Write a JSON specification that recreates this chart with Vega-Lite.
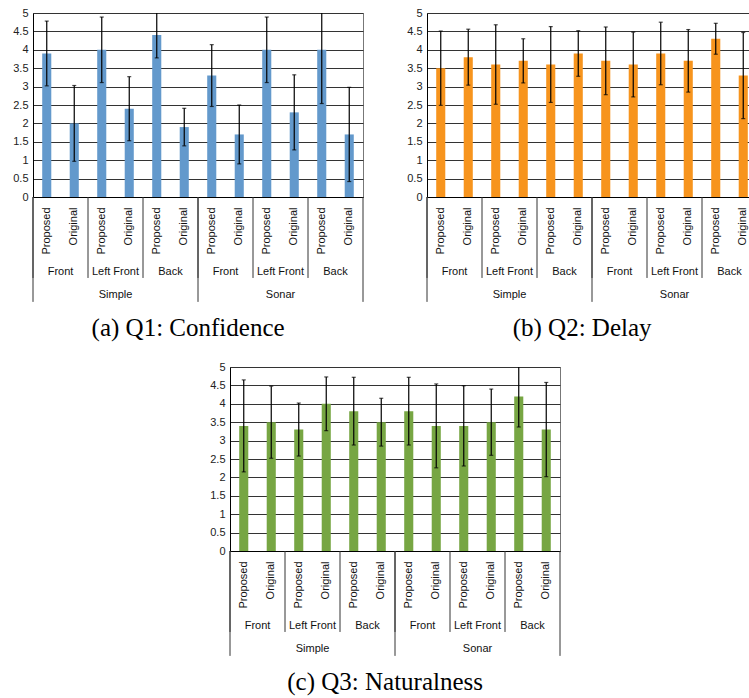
{
  "$schema": "https://vega.github.io/schema/vega-lite/v6.json",
  "padding": {"left": 12, "top": 6, "right": 0, "bottom": 0},
  "background": "white",
  "datasets": {
    "q1": [
      {"method": "Simple", "position": "Front", "system": "Proposed", "value": 3.9, "err": 0.88, "bar": "Simple|Front|Proposed", "group": "Simple|Front"},
      {"method": "Simple", "position": "Front", "system": "Original", "value": 2.0, "err": 1.03, "bar": "Simple|Front|Original", "group": "Simple|Front"},
      {"method": "Simple", "position": "Left Front", "system": "Proposed", "value": 4.0, "err": 0.89, "bar": "Simple|Left Front|Proposed", "group": "Simple|Left Front"},
      {"method": "Simple", "position": "Left Front", "system": "Original", "value": 2.4, "err": 0.87, "bar": "Simple|Left Front|Original", "group": "Simple|Left Front"},
      {"method": "Simple", "position": "Back", "system": "Proposed", "value": 4.4, "err": 0.62, "bar": "Simple|Back|Proposed", "group": "Simple|Back"},
      {"method": "Simple", "position": "Back", "system": "Original", "value": 1.9, "err": 0.51, "bar": "Simple|Back|Original", "group": "Simple|Back"},
      {"method": "Sonar", "position": "Front", "system": "Proposed", "value": 3.3, "err": 0.84, "bar": "Sonar|Front|Proposed", "group": "Sonar|Front"},
      {"method": "Sonar", "position": "Front", "system": "Original", "value": 1.7, "err": 0.8, "bar": "Sonar|Front|Original", "group": "Sonar|Front"},
      {"method": "Sonar", "position": "Left Front", "system": "Proposed", "value": 4.0, "err": 0.89, "bar": "Sonar|Left Front|Proposed", "group": "Sonar|Left Front"},
      {"method": "Sonar", "position": "Left Front", "system": "Original", "value": 2.3, "err": 1.02, "bar": "Sonar|Left Front|Original", "group": "Sonar|Left Front"},
      {"method": "Sonar", "position": "Back", "system": "Proposed", "value": 4.0, "err": 1.46, "bar": "Sonar|Back|Proposed", "group": "Sonar|Back"},
      {"method": "Sonar", "position": "Back", "system": "Original", "value": 1.7, "err": 1.28, "bar": "Sonar|Back|Original", "group": "Sonar|Back"}
    ],
    "q2": [
      {"method": "Simple", "position": "Front", "system": "Proposed", "value": 3.5, "err": 1.01, "bar": "Simple|Front|Proposed", "group": "Simple|Front"},
      {"method": "Simple", "position": "Front", "system": "Original", "value": 3.8, "err": 0.76, "bar": "Simple|Front|Original", "group": "Simple|Front"},
      {"method": "Simple", "position": "Left Front", "system": "Proposed", "value": 3.6, "err": 1.08, "bar": "Simple|Left Front|Proposed", "group": "Simple|Left Front"},
      {"method": "Simple", "position": "Left Front", "system": "Original", "value": 3.7, "err": 0.6, "bar": "Simple|Left Front|Original", "group": "Simple|Left Front"},
      {"method": "Simple", "position": "Back", "system": "Proposed", "value": 3.6, "err": 1.03, "bar": "Simple|Back|Proposed", "group": "Simple|Back"},
      {"method": "Simple", "position": "Back", "system": "Original", "value": 3.9, "err": 0.62, "bar": "Simple|Back|Original", "group": "Simple|Back"},
      {"method": "Sonar", "position": "Front", "system": "Proposed", "value": 3.7, "err": 0.92, "bar": "Sonar|Front|Proposed", "group": "Sonar|Front"},
      {"method": "Sonar", "position": "Front", "system": "Original", "value": 3.6, "err": 0.88, "bar": "Sonar|Front|Original", "group": "Sonar|Front"},
      {"method": "Sonar", "position": "Left Front", "system": "Proposed", "value": 3.9, "err": 0.85, "bar": "Sonar|Left Front|Proposed", "group": "Sonar|Left Front"},
      {"method": "Sonar", "position": "Left Front", "system": "Original", "value": 3.7, "err": 0.85, "bar": "Sonar|Left Front|Original", "group": "Sonar|Left Front"},
      {"method": "Sonar", "position": "Back", "system": "Proposed", "value": 4.3, "err": 0.42, "bar": "Sonar|Back|Proposed", "group": "Sonar|Back"},
      {"method": "Sonar", "position": "Back", "system": "Original", "value": 3.3, "err": 1.17, "bar": "Sonar|Back|Original", "group": "Sonar|Back"}
    ],
    "q3": [
      {"method": "Simple", "position": "Front", "system": "Proposed", "value": 3.4, "err": 1.25, "bar": "Simple|Front|Proposed", "group": "Simple|Front"},
      {"method": "Simple", "position": "Front", "system": "Original", "value": 3.5, "err": 0.98, "bar": "Simple|Front|Original", "group": "Simple|Front"},
      {"method": "Simple", "position": "Left Front", "system": "Proposed", "value": 3.3, "err": 0.72, "bar": "Simple|Left Front|Proposed", "group": "Simple|Left Front"},
      {"method": "Simple", "position": "Left Front", "system": "Original", "value": 4.0, "err": 0.73, "bar": "Simple|Left Front|Original", "group": "Simple|Left Front"},
      {"method": "Simple", "position": "Back", "system": "Proposed", "value": 3.8, "err": 0.92, "bar": "Simple|Back|Proposed", "group": "Simple|Back"},
      {"method": "Simple", "position": "Back", "system": "Original", "value": 3.5, "err": 0.65, "bar": "Simple|Back|Original", "group": "Simple|Back"},
      {"method": "Sonar", "position": "Front", "system": "Proposed", "value": 3.8, "err": 0.92, "bar": "Sonar|Front|Proposed", "group": "Sonar|Front"},
      {"method": "Sonar", "position": "Front", "system": "Original", "value": 3.4, "err": 1.14, "bar": "Sonar|Front|Original", "group": "Sonar|Front"},
      {"method": "Sonar", "position": "Left Front", "system": "Proposed", "value": 3.4, "err": 1.09, "bar": "Sonar|Left Front|Proposed", "group": "Sonar|Left Front"},
      {"method": "Sonar", "position": "Left Front", "system": "Original", "value": 3.5, "err": 0.9, "bar": "Sonar|Left Front|Original", "group": "Sonar|Left Front"},
      {"method": "Sonar", "position": "Back", "system": "Proposed", "value": 4.2, "err": 0.83, "bar": "Sonar|Back|Proposed", "group": "Sonar|Back"},
      {"method": "Sonar", "position": "Back", "system": "Original", "value": 3.3, "err": 1.28, "bar": "Sonar|Back|Original", "group": "Sonar|Back"}
    ]
  },
  "config": {
    "view": {"stroke": "#777", "strokeWidth": 1},
    "axis": {"labelFont": "Liberation Sans", "labelFontSize": 11, "labelColor": "#222"},
    "axisY": {"tickCount": 10, "format": "~g", "grid": true, "gridColor": "#333", "ticks": false, "domainColor": "#000", "labelPadding": 5},
    "title": {"font": "Liberation Serif", "fontSize": 25, "fontWeight": "normal", "color": "#000", "orient": "bottom", "frame": "bounds", "anchor": "middle", "offset": 14}
  },
  "spacing": 18,
  "center": true,
  "vconcat": [
    {
      "spacing": 42,
      "hconcat": [
        {
          "width": 330, "height": 184,
          "title": "(a) Q1: Confidence",
          "data": {"name": "q1"},
          "resolve": {"scale": {"x": "independent"}, "axis": {"x": "independent"}},
          "layer": [
            {"mark": {"type": "bar", "color": "#6399cc"},
             "encoding": {
               "x": {"field": "bar", "type": "nominal", "sort": null, "scale": {"type": "band", "paddingInner": 0.67, "paddingOuter": 0.335},
                     "axis": {"title": null, "labelExpr": "split(datum.label, '|')[2]", "labelAngle": -90, "labelPadding": 10, "ticks": false, "grid": false, "domainColor": "#000", "labelColor": "#111"}},
               "y": {"field": "value", "type": "quantitative", "scale": {"domain": [0, 5]}, "axis": {"title": null}}}},
            {"mark": {"type": "errorbar", "ticks": {"size": 4}, "color": "#000", "thickness": 1.2, "clip": true},
             "encoding": {
               "x": {"field": "bar", "type": "nominal", "sort": null, "scale": {"type": "band", "paddingInner": 0.67, "paddingOuter": 0.335}, "axis": null},
               "y": {"field": "value", "type": "quantitative", "scale": {"domain": [0, 5]}, "axis": {"title": null}},
               "yError": {"field": "err"}}},
            {"transform": [{"filter": "datum.system == 'Proposed'"}],
             "mark": {"type": "text", "font": "Liberation Sans", "fontSize": 11, "color": "#111", "baseline": "middle"},
             "encoding": {
               "x": {"field": "group", "type": "nominal", "sort": null, "bandPosition": 0.5, "scale": {"type": "band", "paddingInner": 0, "paddingOuter": 0}, "axis": null},
               "y": {"datum": -2.04, "type": "quantitative", "scale": {"domain": [0, 5]}, "axis": {"title": null}},
               "text": {"field": "position"}}},
            {"transform": [{"filter": "datum.system == 'Proposed'"}],
             "mark": {"type": "rule", "color": "#333", "strokeWidth": 1},
             "encoding": {
               "x": {"field": "group", "type": "nominal", "sort": null, "bandPosition": 0, "scale": {"type": "band", "paddingInner": 0, "paddingOuter": 0}, "axis": null},
               "y": {"datum": 0, "type": "quantitative", "scale": {"domain": [0, 5]}, "axis": {"title": null}},
               "y2": {"datum": -2.2}}},
            {"transform": [{"filter": "datum.system == 'Proposed' && datum.position == 'Front'"}],
             "mark": {"type": "text", "font": "Liberation Sans", "fontSize": 11, "color": "#111", "baseline": "middle"},
             "encoding": {
               "x": {"field": "method", "type": "nominal", "sort": null, "bandPosition": 0.5, "scale": {"type": "band", "paddingInner": 0, "paddingOuter": 0}, "axis": null},
               "y": {"datum": -2.66, "type": "quantitative", "scale": {"domain": [0, 5]}, "axis": {"title": null}},
               "text": {"field": "method"}}},
            {"transform": [{"filter": "datum.system == 'Proposed' && datum.position == 'Front'"}],
             "mark": {"type": "rule", "color": "#333", "strokeWidth": 1},
             "encoding": {
               "x": {"field": "method", "type": "nominal", "sort": null, "bandPosition": 0, "scale": {"type": "band", "paddingInner": 0, "paddingOuter": 0}, "axis": null},
               "y": {"datum": 0, "type": "quantitative", "scale": {"domain": [0, 5]}, "axis": {"title": null}},
               "y2": {"datum": -2.85}}},
            {"transform": [{"filter": "datum.system == 'Proposed' && datum.position == 'Back' && datum.method == 'Sonar'"}],
             "mark": {"type": "rule", "color": "#333", "strokeWidth": 1},
             "encoding": {
               "x": {"field": "method", "type": "nominal", "bandPosition": 1, "scale": {"type": "band", "domain": ["Simple", "Sonar"], "paddingInner": 0, "paddingOuter": 0}, "axis": null},
               "y": {"datum": 0, "type": "quantitative", "scale": {"domain": [0, 5]}, "axis": {"title": null}},
               "y2": {"datum": -2.85}}}
          ]
        },
        {
          "width": 330, "height": 184,
          "title": "(b) Q2: Delay",
          "data": {"name": "q2"},
          "resolve": {"scale": {"x": "independent"}, "axis": {"x": "independent"}},
          "layer": [
            {"mark": {"type": "bar", "color": "#f7941d"},
             "encoding": {
               "x": {"field": "bar", "type": "nominal", "sort": null, "scale": {"type": "band", "paddingInner": 0.67, "paddingOuter": 0.335},
                     "axis": {"title": null, "labelExpr": "split(datum.label, '|')[2]", "labelAngle": -90, "labelPadding": 10, "ticks": false, "grid": false, "domainColor": "#000", "labelColor": "#111"}},
               "y": {"field": "value", "type": "quantitative", "scale": {"domain": [0, 5]}, "axis": {"title": null}}}},
            {"mark": {"type": "errorbar", "ticks": {"size": 4}, "color": "#000", "thickness": 1.2, "clip": true},
             "encoding": {
               "x": {"field": "bar", "type": "nominal", "sort": null, "scale": {"type": "band", "paddingInner": 0.67, "paddingOuter": 0.335}, "axis": null},
               "y": {"field": "value", "type": "quantitative", "scale": {"domain": [0, 5]}, "axis": {"title": null}},
               "yError": {"field": "err"}}},
            {"transform": [{"filter": "datum.system == 'Proposed'"}],
             "mark": {"type": "text", "font": "Liberation Sans", "fontSize": 11, "color": "#111", "baseline": "middle"},
             "encoding": {
               "x": {"field": "group", "type": "nominal", "sort": null, "bandPosition": 0.5, "scale": {"type": "band", "paddingInner": 0, "paddingOuter": 0}, "axis": null},
               "y": {"datum": -2.04, "type": "quantitative", "scale": {"domain": [0, 5]}, "axis": {"title": null}},
               "text": {"field": "position"}}},
            {"transform": [{"filter": "datum.system == 'Proposed'"}],
             "mark": {"type": "rule", "color": "#333", "strokeWidth": 1},
             "encoding": {
               "x": {"field": "group", "type": "nominal", "sort": null, "bandPosition": 0, "scale": {"type": "band", "paddingInner": 0, "paddingOuter": 0}, "axis": null},
               "y": {"datum": 0, "type": "quantitative", "scale": {"domain": [0, 5]}, "axis": {"title": null}},
               "y2": {"datum": -2.2}}},
            {"transform": [{"filter": "datum.system == 'Proposed' && datum.position == 'Front'"}],
             "mark": {"type": "text", "font": "Liberation Sans", "fontSize": 11, "color": "#111", "baseline": "middle"},
             "encoding": {
               "x": {"field": "method", "type": "nominal", "sort": null, "bandPosition": 0.5, "scale": {"type": "band", "paddingInner": 0, "paddingOuter": 0}, "axis": null},
               "y": {"datum": -2.66, "type": "quantitative", "scale": {"domain": [0, 5]}, "axis": {"title": null}},
               "text": {"field": "method"}}},
            {"transform": [{"filter": "datum.system == 'Proposed' && datum.position == 'Front'"}],
             "mark": {"type": "rule", "color": "#333", "strokeWidth": 1},
             "encoding": {
               "x": {"field": "method", "type": "nominal", "sort": null, "bandPosition": 0, "scale": {"type": "band", "paddingInner": 0, "paddingOuter": 0}, "axis": null},
               "y": {"datum": 0, "type": "quantitative", "scale": {"domain": [0, 5]}, "axis": {"title": null}},
               "y2": {"datum": -2.85}}},
            {"transform": [{"filter": "datum.system == 'Proposed' && datum.position == 'Back' && datum.method == 'Sonar'"}],
             "mark": {"type": "rule", "color": "#333", "strokeWidth": 1},
             "encoding": {
               "x": {"field": "method", "type": "nominal", "bandPosition": 1, "scale": {"type": "band", "domain": ["Simple", "Sonar"], "paddingInner": 0, "paddingOuter": 0}, "axis": null},
               "y": {"datum": 0, "type": "quantitative", "scale": {"domain": [0, 5]}, "axis": {"title": null}},
               "y2": {"datum": -2.85}}}
          ]
        }
      ]
    },
    {
      "width": 330, "height": 184,
      "title": "(c) Q3: Naturalness",
      "data": {"name": "q3"},
      "resolve": {"scale": {"x": "independent"}, "axis": {"x": "independent"}},
      "layer": [
        {"mark": {"type": "bar", "color": "#77a643"},
         "encoding": {
           "x": {"field": "bar", "type": "nominal", "sort": null, "scale": {"type": "band", "paddingInner": 0.67, "paddingOuter": 0.335},
                 "axis": {"title": null, "labelExpr": "split(datum.label, '|')[2]", "labelAngle": -90, "labelPadding": 10, "ticks": false, "grid": false, "domainColor": "#000", "labelColor": "#111"}},
           "y": {"field": "value", "type": "quantitative", "scale": {"domain": [0, 5]}, "axis": {"title": null}}}},
        {"mark": {"type": "errorbar", "ticks": {"size": 4}, "color": "#000", "thickness": 1.2, "clip": true},
         "encoding": {
           "x": {"field": "bar", "type": "nominal", "sort": null, "scale": {"type": "band", "paddingInner": 0.67, "paddingOuter": 0.335}, "axis": null},
           "y": {"field": "value", "type": "quantitative", "scale": {"domain": [0, 5]}, "axis": {"title": null}},
           "yError": {"field": "err"}}},
        {"transform": [{"filter": "datum.system == 'Proposed'"}],
         "mark": {"type": "text", "font": "Liberation Sans", "fontSize": 11, "color": "#111", "baseline": "middle"},
         "encoding": {
           "x": {"field": "group", "type": "nominal", "sort": null, "bandPosition": 0.5, "scale": {"type": "band", "paddingInner": 0, "paddingOuter": 0}, "axis": null},
           "y": {"datum": -2.04, "type": "quantitative", "scale": {"domain": [0, 5]}, "axis": {"title": null}},
           "text": {"field": "position"}}},
        {"transform": [{"filter": "datum.system == 'Proposed'"}],
         "mark": {"type": "rule", "color": "#333", "strokeWidth": 1},
         "encoding": {
           "x": {"field": "group", "type": "nominal", "sort": null, "bandPosition": 0, "scale": {"type": "band", "paddingInner": 0, "paddingOuter": 0}, "axis": null},
           "y": {"datum": 0, "type": "quantitative", "scale": {"domain": [0, 5]}, "axis": {"title": null}},
           "y2": {"datum": -2.2}}},
        {"transform": [{"filter": "datum.system == 'Proposed' && datum.position == 'Front'"}],
         "mark": {"type": "text", "font": "Liberation Sans", "fontSize": 11, "color": "#111", "baseline": "middle"},
         "encoding": {
           "x": {"field": "method", "type": "nominal", "sort": null, "bandPosition": 0.5, "scale": {"type": "band", "paddingInner": 0, "paddingOuter": 0}, "axis": null},
           "y": {"datum": -2.66, "type": "quantitative", "scale": {"domain": [0, 5]}, "axis": {"title": null}},
           "text": {"field": "method"}}},
        {"transform": [{"filter": "datum.system == 'Proposed' && datum.position == 'Front'"}],
         "mark": {"type": "rule", "color": "#333", "strokeWidth": 1},
         "encoding": {
           "x": {"field": "method", "type": "nominal", "sort": null, "bandPosition": 0, "scale": {"type": "band", "paddingInner": 0, "paddingOuter": 0}, "axis": null},
           "y": {"datum": 0, "type": "quantitative", "scale": {"domain": [0, 5]}, "axis": {"title": null}},
           "y2": {"datum": -2.85}}},
        {"transform": [{"filter": "datum.system == 'Proposed' && datum.position == 'Back' && datum.method == 'Sonar'"}],
         "mark": {"type": "rule", "color": "#333", "strokeWidth": 1},
         "encoding": {
           "x": {"field": "method", "type": "nominal", "bandPosition": 1, "scale": {"type": "band", "domain": ["Simple", "Sonar"], "paddingInner": 0, "paddingOuter": 0}, "axis": null},
           "y": {"datum": 0, "type": "quantitative", "scale": {"domain": [0, 5]}, "axis": {"title": null}},
           "y2": {"datum": -2.85}}}
      ]
    }
  ]
}
